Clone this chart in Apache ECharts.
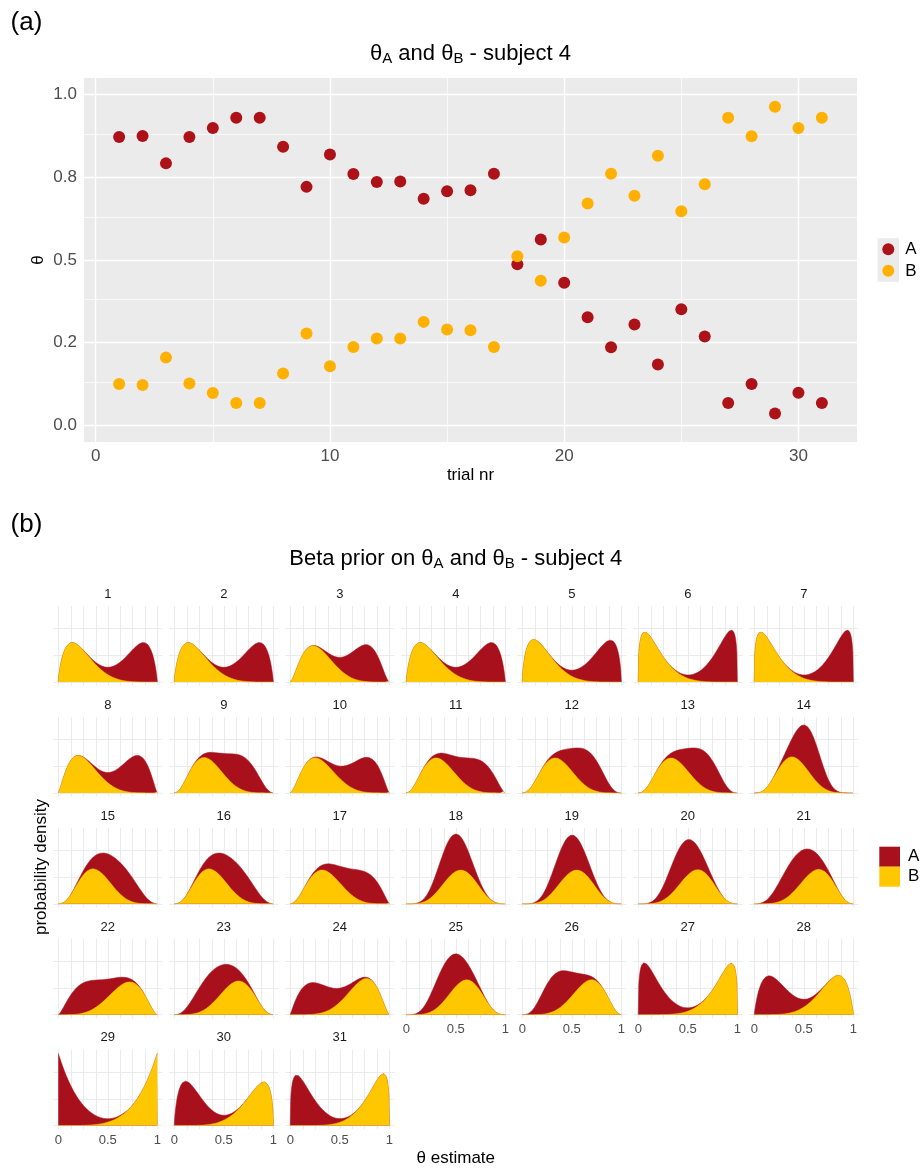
<!DOCTYPE html>
<html><head><meta charset="utf-8">
<script src="https://cdn.jsdelivr.net/npm/echarts@6/dist/echarts.min.js"></script>
<style>html,body{margin:0;padding:0;background:#fff}#c{width:921px;height:1170px}</style>
</head><body><div id="c"></div><script>
// ---------------- data ----------------
const trials = [1,2,3,4,5,6,7,8,9,10,11,12,13,14,15,16,17,18,19,20,21,22,23,24,25,26,27,28,29,30,31];
const thetaA = [0.872,0.875,0.792,0.872,0.899,0.930,0.930,0.842,0.721,0.819,0.760,0.736,0.737,0.685,0.708,0.711,0.761,0.487,0.562,0.431,0.327,0.236,0.305,0.184,0.351,0.269,0.068,0.125,0.036,0.099,0.068];
const thetaB = [0.125,0.122,0.205,0.127,0.098,0.068,0.068,0.157,0.278,0.179,0.237,0.263,0.263,0.313,0.290,0.288,0.237,0.511,0.437,0.568,0.671,0.761,0.694,0.815,0.647,0.729,0.930,0.874,0.963,0.899,0.930];
const trialTicks = [0,10,20,30];
const thetaTickValues = [0,0.25,0.5,0.75,1];
const thetaTickLabels = ['0.0','0.2','0.5','0.8','1.0'];
// Beta prior per trial, given as mode and concentration (alpha+beta-2)
const modeA = [0.86,0.86,0.77,0.86,0.89,0.94,0.94,0.80,0.68,0.78,0.72,0.66,0.66,0.55,0.62,0.62,0.74,0.47,0.47,0.45,0.42,0.28,0.38,0.22,0.42,0.35,0.06,0.15,0.00,0.114,0.064];
const concA = [5.84,5.84,7.27,5.84,5.6,5.9,5.9,6.76,7.33,6.25,5.74,9.0,9.0,15.0,6.71,6.71,5.02,11.3,10.5,10.5,8.2,5.26,7.3,4.89,10.3,9.6,5.9,5.94,4.4,6.5,5.8];
const modeB = [0.14,0.14,0.23,0.14,0.115,0.066,0.066,0.20,0.30,0.25,0.30,0.33,0.33,0.38,0.35,0.35,0.32,0.55,0.55,0.60,0.65,0.72,0.65,0.77,0.61,0.70,0.94,0.85,1.00,0.905,0.94];
const concB = [5.84,5.84,6.95,5.84,5.97,5.8,5.8,6.76,7.88,6.83,7.65,8.05,8.05,9.25,8.29,8.29,7.33,8.33,8.33,8.3,8.0,6.26,7.6,6.95,8.66,7.65,5.8,6.1,4.4,5.53,5.9];
const densTickValues = [0,0.5,1];
const densTickLabels = ['0','0.5','1'];
const densGridX = [0,0.125,0.25,0.375,0.5,0.625,0.75,0.875,1];
const densGridY = [0,2,4];

// ---------------- helpers ----------------
const FONT = '"Liberation Sans", Arial, sans-serif';
const RED_PT = '#AE1219', ORG_PT = '#FFB000';
const RED = '#A8101C', YEL = '#FFC700';
function lgamma(z){
  const c=[0.99999999999980993,676.5203681218851,-1259.1392167224028,771.32342877765313,-176.61502916214059,12.507343278686905,-0.13857109526572012,9.9843695780195716e-6,1.5056327351493116e-7];
  if (z < 0.5) return Math.log(Math.PI/Math.sin(Math.PI*z)) - lgamma(1-z);
  z -= 1; let x=c[0]; for (let i=1;i<9;i++) x += c[i]/(z+i);
  const t = z+7.5; return 0.5*Math.log(2*Math.PI)+(z+0.5)*Math.log(t)-t+Math.log(x);
}
function betaPdf(x,a,b){
  const lb = lgamma(a)+lgamma(b)-lgamma(a+b);
  const la = (a===1)?0:(x<=0? -Infinity : (a-1)*Math.log(x));
  const lbb = (b===1)?0:(x>=1? -Infinity : (b-1)*Math.log(1-x));
  return Math.exp(la+lbb-lb);
}
const NPTS = 200;
const xs = []; for (let i=0;i<=NPTS;i++) xs.push(i/NPTS);

// ---------------- layout ----------------
const TOP = {left:84, top:78, width:773, height:364};
const P_LEFT0 = 53.3, P_STEP_X = 116, P_W = 109, X0_OFF = 4.95;
const BASE0 = 682, P_STEP_Y = 110.9, P_ABOVE = 76, P_H = 79.6;
const Y_MIN = -0.27, Y_MAX = 5.67;

const grids = [{left:TOP.left, top:TOP.top, width:TOP.width, height:TOP.height, show:true, backgroundColor:'#EBEBEB', borderWidth:0}];
const xAxes = [{gridIndex:0, type:'value', min:-0.5, max:32.5,
  axisLine:{show:false}, splitLine:{show:false},
  axisTick:{show:true, customValues:trialTicks, length:4, lineStyle:{color:'#333333', width:1}},
  axisLabel:{customValues:trialTicks, color:'#4D4D4D', fontSize:17, fontFamily:FONT, margin:6},
  name:'trial nr', nameLocation:'middle', nameGap:25, nameMoveOverlap:false, nameTextStyle:{fontSize:17, color:'#000', fontFamily:FONT}}];
const yAxes = [{gridIndex:0, type:'value', min:-0.05, max:1.05,
  axisLine:{show:false}, splitLine:{show:false},
  axisTick:{show:true, customValues:thetaTickValues, length:4, lineStyle:{color:'#333333', width:1}},
  axisLabel:{customValues:thetaTickValues, formatter:v=>thetaTickLabels[thetaTickValues.indexOf(v)], color:'#4D4D4D', fontSize:17, fontFamily:FONT, margin:7},
  name:'θ', nameLocation:'middle', nameGap:37, nameRotate:90, nameMoveOverlap:false, nameTextStyle:{fontSize:17, color:'#000', fontFamily:FONT}}];

const series = [];
series.push({name:'A', type:'scatter', xAxisIndex:0, yAxisIndex:0, data:trials.map((t,i)=>[t,thetaA[i]]), symbolSize:12, itemStyle:{color:RED_PT, opacity:1}, z:10});
series.push({name:'B', type:'scatter', xAxisIndex:0, yAxisIndex:0, data:trials.map((t,i)=>[t,thetaB[i]]), symbolSize:12, itemStyle:{color:ORG_PT, opacity:1}, z:11});
// top panel grid lines
const topLines = [];
[5,15,25].forEach(v=>topLines.push({xAxis:v, lineStyle:{width:0.7}}));
[0,10,20,30].forEach(v=>topLines.push({xAxis:v, lineStyle:{width:1.4}}));
[0.125,0.375,0.625,0.875].forEach(v=>topLines.push({yAxis:v, lineStyle:{width:0.7}}));
thetaTickValues.forEach(v=>topLines.push({yAxis:v, lineStyle:{width:1.4}}));
series.push({type:'line', xAxisIndex:0, yAxisIndex:0, data:[], silent:true, z:1,
  markLine:{silent:true, z:1, symbol:['none','none'], label:{show:false}, emphasis:{disabled:true}, animation:false,
    lineStyle:{color:'#FFFFFF', type:'solid'}, data:topLines}});

const graphics = [];
function txt(x,y,text,size,color,extra){
  graphics.push(Object.assign({type:'text', x:x, y:y, silent:true, style:Object.assign({text:text, fontSize:size, fontFamily:FONT, fill:color, align:'center', verticalAlign:'middle'}, extra||{})}));
}

for (let i=0;i<trials.length;i++){
  const r = Math.floor(i/7), c = i%7;
  const base = BASE0 + P_STEP_Y*r;
  const left = P_LEFT0 + P_STEP_X*c;
  const gi = i+1;
  grids.push({left:left, top:base-P_ABOVE, width:P_W, height:P_H, show:false});
  const hasLabels = (i+7 >= trials.length);
  xAxes.push({gridIndex:gi, type:'value', min:-0.05, max:1.05, axisLine:{show:false}, axisTick:{show:false}, splitLine:{show:false},
    axisLabel:{show:hasLabels, customValues:densTickValues, formatter:v=>densTickLabels[densTickValues.indexOf(v)], color:'#4D4D4D', fontSize:13, fontFamily:FONT, margin:5}});
  yAxes.push({gridIndex:gi, type:'value', min:Y_MIN, max:Y_MAX, show:false});
  const lines = [];
  densGridY.forEach(v=>lines.push({yAxis:v}));
  densGridX.forEach(v=>lines.push({xAxis:v}));
  series.push({type:'line', xAxisIndex:gi, yAxisIndex:gi, data:[], silent:true, z:0,
    markLine:{silent:true, z:0, symbol:['none','none'], label:{show:false}, emphasis:{disabled:true}, animation:false,
      lineStyle:{color:'#EBEBEB', width:1.1, type:'solid'}, data:lines}});
  const aB = 1+modeB[i]*concB[i], bB = 1+(1-modeB[i])*concB[i];
  const aA = 1+modeA[i]*concA[i], bA = 1+(1-modeA[i])*concA[i];
  const dB = xs.map(x=>betaPdf(x,aB,bB));
  const dA = xs.map(x=>betaPdf(x,aA,bA));
  // stacked: A sits on top of B
  series.push({name:'A', type:'line', xAxisIndex:gi, yAxisIndex:gi, symbol:'none', showSymbol:false, silent:true, z:10,
    data:xs.map((x,k)=>[x, dA[k]+dB[k]]), lineStyle:{width:0.5, color:RED}, itemStyle:{color:RED}, areaStyle:{color:RED, opacity:1}});
  series.push({name:'B', type:'line', xAxisIndex:gi, yAxisIndex:gi, symbol:'none', showSymbol:false, silent:true, z:11,
    data:xs.map((x,k)=>[x, dB[k]]), lineStyle:{width:0.5, color:YEL}, itemStyle:{color:YEL}, areaStyle:{color:YEL, opacity:1}});
  txt(left+X0_OFF+49.5, base-87.7, String(trials[i]), 13, '#1A1A1A');
}

// titles / labels
txt(26.5, 22.5, '(a)', 26, '#000');
txt(26.5, 525, '(b)', 26, '#000');
const richSub = {s:{fontSize:15, fontFamily:FONT, fill:'#000', padding:[10,0,0,0]}};
txt(470.5, 54, 'θ{s|A} and θ{s|B} - subject 4', 22, '#000', {rich:richSub});
txt(455.8, 559, 'Beta prior on θ{s|A} and θ{s|B} - subject 4', 22, '#000', {rich:richSub});
txt(455.8, 1158, 'θ estimate', 17, '#000');
graphics.push({type:'text', x:41, y:867, rotation:Math.PI/2, silent:true, style:{text:'probability density', fontSize:17, fontFamily:FONT, fill:'#000', align:'center', verticalAlign:'middle'}});
// legend key background (top legend)
graphics.push({type:'rect', shape:{x:877.7, y:238.3, width:21.3, height:43.4}, style:{fill:'#EBEBEB'}, silent:true, z:-1});

const option = {
  animation:false,
  textStyle:{fontFamily:FONT},
  grid:grids, xAxis:xAxes, yAxis:yAxes, series:series, graphic:graphics,
  legend:[
    {selectedMode:false, orient:'vertical', left:882.3, top:238.3, padding:0, itemWidth:12, itemHeight:12, itemGap:0, icon:'circle',
      data:[{name:'A', itemStyle:{color:RED_PT, opacity:1}}, {name:'B', itemStyle:{color:ORG_PT, opacity:1}}],
      textStyle:{fontSize:17, color:'#000', fontFamily:FONT, lineHeight:21.7, padding:[0,0,0,6]}},
    {selectedMode:false, orient:'vertical', left:879.3, top:846.7, padding:0, itemWidth:20.7, itemHeight:20, itemGap:0,
      data:[{name:'A', icon:'rect', itemStyle:{color:RED, opacity:1}}, {name:'B', icon:'rect', itemStyle:{color:YEL, opacity:1}}],
      textStyle:{fontSize:17, color:'#000', fontFamily:FONT, lineHeight:20, padding:[0,0,0,3]}}
  ]
};
const chart = echarts.init(document.getElementById('c'), null, {renderer:'canvas'});
chart.setOption(option);
</script></body></html>
